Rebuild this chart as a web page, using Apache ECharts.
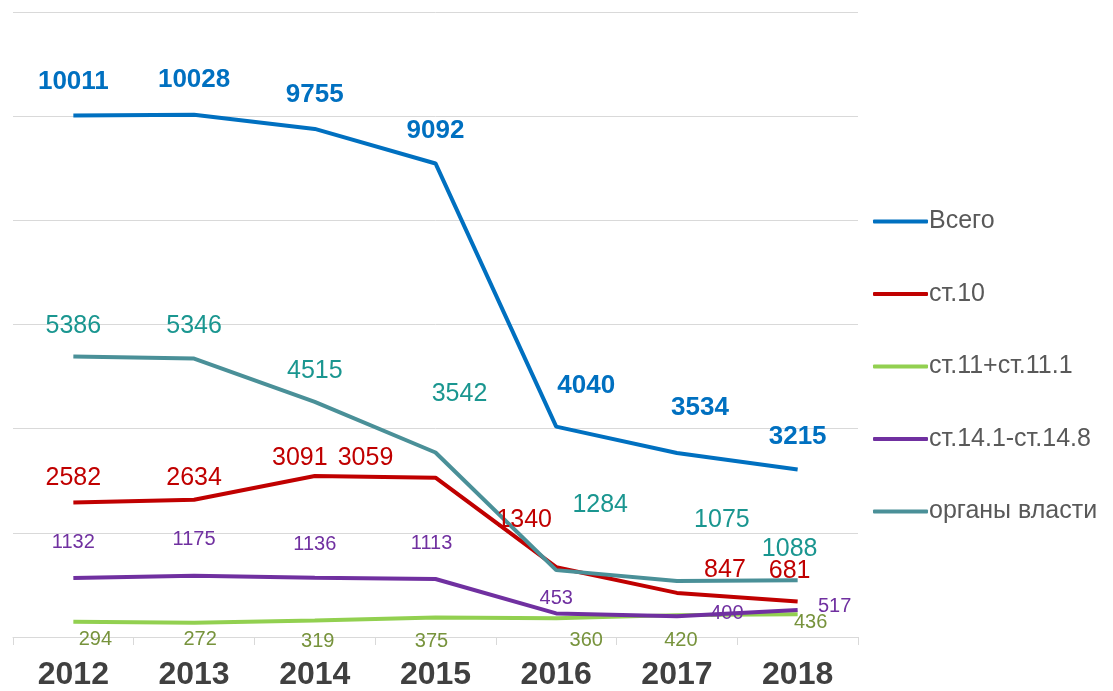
<!DOCTYPE html>
<html>
<head>
<meta charset="utf-8">
<title>chart</title>
<script src="https://cdn.jsdelivr.net/npm/echarts@6/dist/echarts.min.js"></script>
<style>
  html, body { margin: 0; padding: 0; background: #fff; }
  #main { width: 1113px; height: 691px; }
</style>
</head>
<body>
<div id="main"></div>
<script>
var years = ['2012', '2013', '2014', '2015', '2016', '2017', '2018']
var names = ['Всего', 'ст.10', 'ст.11+ст.11.1', 'ст.14.1-ст.14.8', 'органы власти']

var total = [10011, 10028, 9755, 9092, 4040, 3534, 3215]
var st10 = [2582, 2634, 3091, 3059, 1340, 847, 681]
var st11 = [294, 272, 319, 375, 360, 420, 436]
var st14 = [1132, 1175, 1136, 1113, 453, 400, 517]
var organs = [5386, 5346, 4515, 3542, 1284, 1075, 1088]

// label offsets (centre of label relative to point)
var totalOff = [[0, -34], [0, -35], [0, -34], [0, -33], [30, -41], [23, -45], [0, -33]]
var st10Off = [[0, -24], [0, -22], [-15, -18], [-70, -20], [-32, -47], [48, -23], [-8, -30]]
var st11Off = [[22, 18], [6, 17], [3, 21], [-4, 24], [30, 22], [4, 25], [13, 8]]
var st14Off = [[0, -36], [0, -36], [0, -33], [-4, -36], [0, -15], [50, -3], [37, -4]]
var organsOff = [[0, -30], [0, -32], [0, -31], [24, -58], [44, -65], [45, -61], [-8, -31]]

function points(values, offsets) {
  return values.map(function(v, i) {
    return { value: v, label: { offset: offsets[i] } }
  })
}

function line(name, values, offsets, color, labelColor, fontSize, bold) {
  return {
    name: name,
    type: 'line',
    data: points(values, offsets),
    symbol: 'circle',
    symbolSize: 0.1,
    lineStyle: { color: color, width: 4 },
    itemStyle: { color: color },
    label: {
      show: true,
      position: 'inside',
      color: labelColor,
      fontSize: fontSize,
      fontWeight: bold ? 'bold' : 'normal',
      fontFamily: 'Liberation Sans'
    },
    animation: false
  }
}

var chart = echarts.init(document.getElementById('main'))
chart.setOption({
  backgroundColor: '#fff',
  grid: { left: 13, right: 255, top: 12, bottom: 54 },
  legend: {
    orient: 'vertical',
    left: 868,
    top: 204,
    itemWidth: 55,
    itemHeight: 4,
    itemGap: 47.5,
    icon: 'roundRect',
    data: names,
    textStyle: { fontSize: 25, color: '#595959', fontFamily: 'Liberation Sans', padding: [0, 0, 0, -4] }
  },
  xAxis: {
    type: 'category',
    data: years,
    boundaryGap: true,
    axisLine: { lineStyle: { color: '#d9d9d9', width: 1 } },
    axisTick: { show: true, length: 8, lineStyle: { color: '#d9d9d9' } },
    axisLabel: { fontSize: 32, fontWeight: 'bold', color: '#404040', margin: 22, fontFamily: 'Liberation Sans' }
  },
  yAxis: {
    type: 'value',
    min: 0,
    max: 12000,
    interval: 2000,
    axisLabel: { show: false },
    axisLine: { show: false },
    axisTick: { show: false },
    splitLine: { lineStyle: { color: '#d9d9d9', width: 1 } }
  },
  series: [
    line('Всего', total, totalOff, '#0070c0', '#0070c0', 26, true),
    line('ст.10', st10, st10Off, '#c00000', '#c00000', 25, false),
    line('ст.11+ст.11.1', st11, st11Off, '#92d050', '#77933c', 20, false),
    line('ст.14.1-ст.14.8', st14, st14Off, '#7030a0', '#7030a0', 20, false),
    line('органы власти', organs, organsOff, '#4a9098', '#1a9690', 25, false)
  ]
})
</script>
</body>
</html>
